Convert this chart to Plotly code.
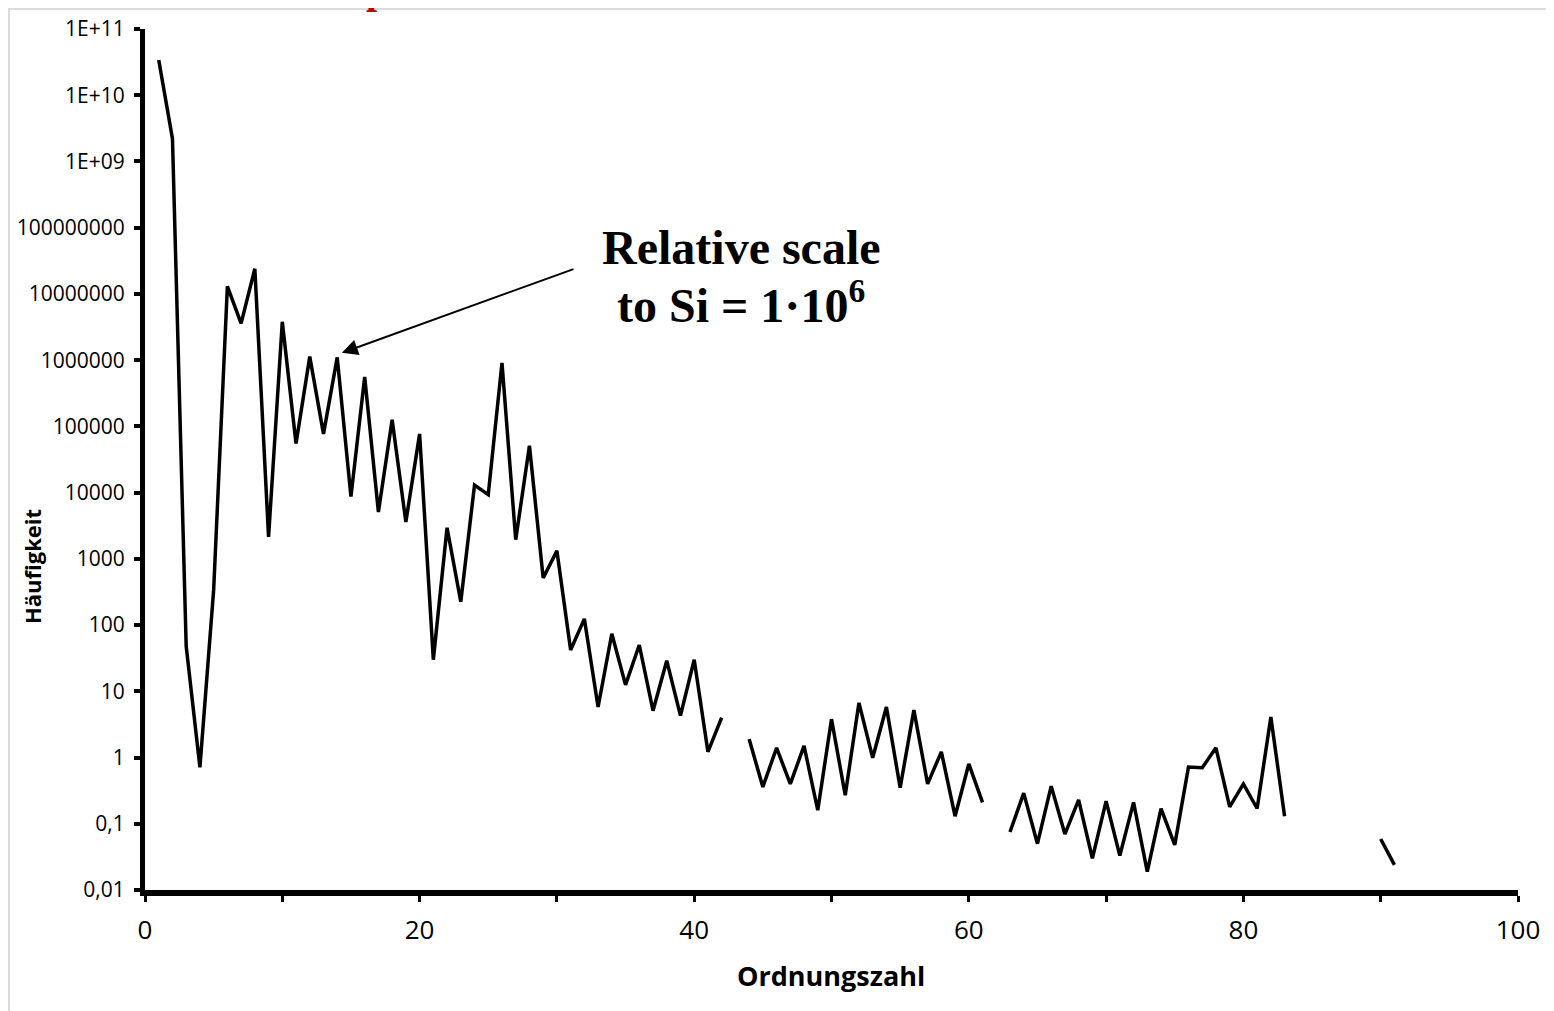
import plotly.graph_objects as go

# atomic number and relative abundance (Si = 1e6), gaps where no value is plotted
ordnungszahl = list(range(1, 92))
haeufigkeit = [
    3.4e10, 2.2e9, 48, 0.71, 340, 1.3e7, 3.6e6, 2.4e7, 2150, 3.8e6,
    5.5e4, 1.13e6, 7.7e4, 1.1e6, 8700, 5.6e5, 5100, 1.26e5, 3600, 7.7e4,
    30, 2950, 225, 1.3e4, 9300, 9.1e5, 1950, 5.1e4, 515, 1320,
    42, 124, 5.8, 74, 12.5, 50, 5.1, 29, 4.3, 30,
    1.22, 4.0, None, 1.9, 0.36, 1.4, 0.40, 1.5, 0.16, 3.8,
    0.27, 6.7, 0.99, 5.8, 0.35, 5.2, 0.40, 1.22, 0.13, 0.80,
    0.21, None, 0.075, 0.29, 0.05, 0.37, 0.07, 0.23, 0.030, 0.22,
    0.033, 0.21, 0.019, 0.17, 0.048, 0.72, 0.70, 1.40, 0.18, 0.40,
    0.17, 4.1, 0.13, None, None, None, None, None, None, 0.059,
    0.024,
]

y_tickvals = [1e11, 1e10, 1e9, 1e8, 1e7, 1e6, 1e5, 1e4, 1e3, 100, 10, 1, 0.1, 0.01]
y_ticktext = ["1E+11", "1E+10", "1E+09", "100000000", "10000000", "1000000",
              "100000", "10000", "1000", "100", "10", "1", "0,1", "0,01"]
x_tickvals = list(range(0, 101, 10))
x_ticktext = [str(v) if v % 20 == 0 else "" for v in x_tickvals]

# the page body adds an 8px margin, so the figure is a bit smaller
W, H = 1546, 1003
L, R, T, B = 137, 36, 21, 121
pw, ph = W - L - R, H - T - B

# screen pixel -> paper coordinates
def px(x):
    return (x - 8 - L) / pw

def py(y):
    return (T + ph - (y - 8)) / ph

fig = go.Figure(go.Scatter(
    x=ordnungszahl, y=haeufigkeit, mode="lines",
    line=dict(color="black", width=3.5), connectgaps=False,
    hoverinfo="x+y",
))

fig.update_xaxes(
    range=[0, 100], tickvals=x_tickvals, ticktext=x_ticktext,
    showline=True, linecolor="black", linewidth=6,
    ticks="outside", ticklen=6, tickwidth=3, tickcolor="black",
    ticklabelstandoff=6,
    showgrid=False, zeroline=False,
    tickfont=dict(family="Open Sans", size=26, color="black"),
)
fig.update_yaxes(
    type="log", range=[-2, 11], tickvals=y_tickvals, ticktext=y_ticktext,
    showline=True, linecolor="black", linewidth=5,
    ticks="outside", ticklen=6, tickwidth=4, tickcolor="black",
    ticklabelstandoff=5,
    showgrid=False, zeroline=False,
    tickfont=dict(family="Open Sans", size=21, color="black"),
)

fig.update_layout(
    width=W, height=H, template="simple_white",
    margin=dict(l=L, r=R, t=T, b=B, autoexpand=False),
    paper_bgcolor="white", plot_bgcolor="white", showlegend=False,
    shapes=[dict(type="rect", xref="paper", yref="paper",
                 x0=px(9), x1=px(1600), y0=py(1060), y1=py(9),
                 line=dict(color="#8c8c8c", width=2),
                 fillcolor="rgba(0,0,0,0)", layer="below")],
)

def label(text, sx, sy, size, family="Open Sans", angle=0):
    fig.add_annotation(
        x=px(sx), y=py(sy), xref="paper", yref="paper", showarrow=False,
        xanchor="center", yanchor="middle", text=text, textangle=angle,
        font=dict(family=family, size=size, color="black"),
    )

label("<b>Ordnungszahl</b>", 831, 975, 27)
label("<b>Häufigkeit</b>", 32, 567, 22, angle=-90)
label("<b>Relative scale</b>", 741, 247, 48, family="Liberation Serif")
label("<b>to Si = 1·10<sup>6</sup></b>", 741, 302, 48, family="Liberation Serif")

# arrow pointing at silicon
fig.add_annotation(
    x=14.2, y=6.1, xref="x", yref="y", text="",
    showarrow=True, ax=235, ay=-85, arrowhead=2, arrowsize=1.6,
    arrowwidth=2, arrowcolor="black", standoff=2,
)
# red title remnant, cut off at the top edge
fig.add_annotation(
    x=px(377), y=py(14), xref="paper", yref="paper", showarrow=False,
    text="<b>p</b>", xanchor="center", yanchor="bottom",
    font=dict(family="Liberation Serif", size=40, color="#c00000"),
)

fig.write_html("out.html")
